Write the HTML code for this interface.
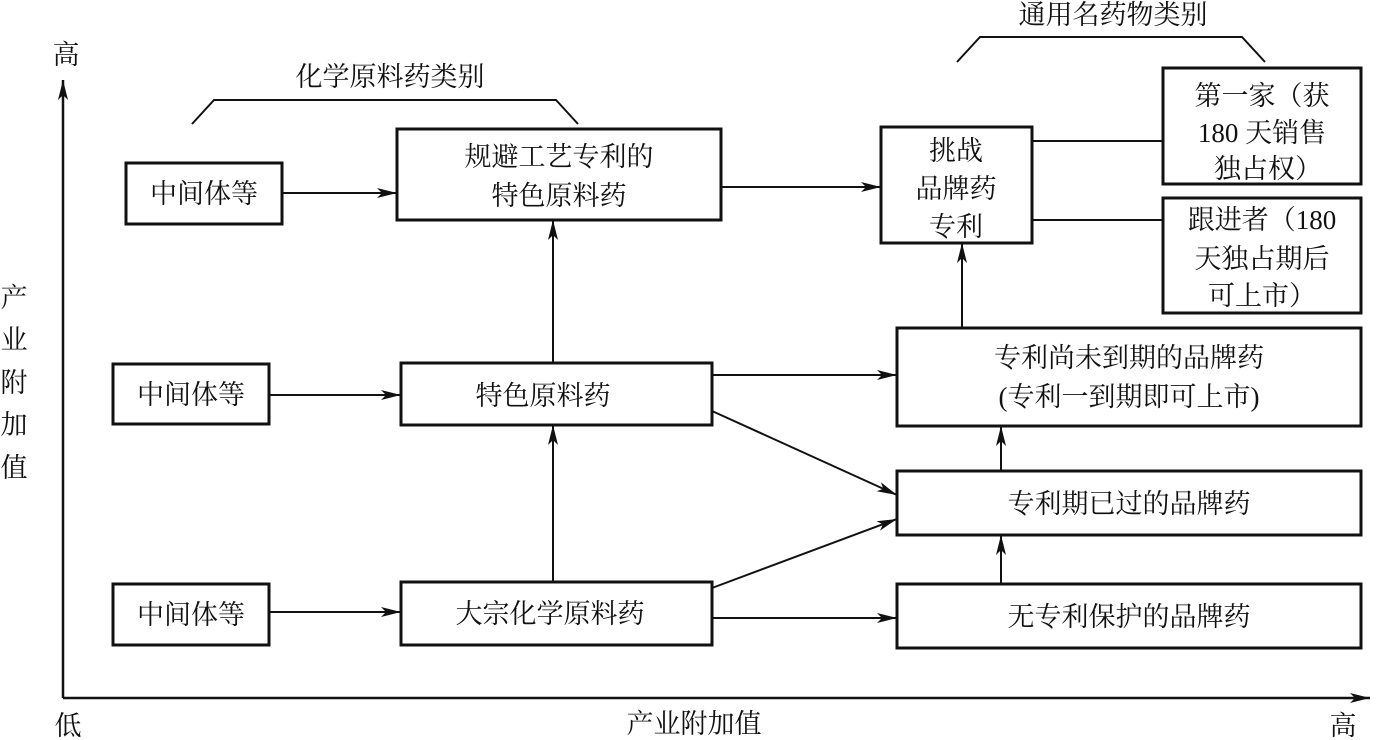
<!DOCTYPE html>
<html><head><meta charset="utf-8"><style>
html,body{margin:0;padding:0;background:#fff}
svg{display:block}
text{font-family:"Liberation Serif","Noto Serif CJK SC","Noto Sans CJK SC",serif;font-size:27px;fill:#111;text-anchor:middle}
</style></head><body>
<svg width="1379" height="740" viewBox="0 0 1379 740" xmlns="http://www.w3.org/2000/svg">
<defs><marker id="a" viewBox="0 0 20 10" refX="20" refY="5" markerWidth="20" markerHeight="10" markerUnits="userSpaceOnUse" orient="auto"><path d="M0,0 L20,5 L0,10 L5,5 Z" fill="#111"/></marker></defs>
<g stroke="#111" fill="none">
<!-- axes -->
<line x1="63" y1="698" x2="63" y2="80" stroke-width="2.5" marker-end="url(#a)"/>
<line x1="63" y1="698" x2="1370" y2="698" stroke-width="2.5" marker-end="url(#a)"/>
<!-- brackets -->
<polyline points="192,124 214,100 556,100 578,124" stroke-width="2"/>
<polyline points="957,62 980,37 1242,37 1265,62" stroke-width="2"/>
<!-- boxes -->
<g stroke-width="3">
<rect x="126" y="163" width="156" height="61"/>
<rect x="397" y="129" width="324" height="91"/>
<rect x="881" y="127" width="151" height="116"/>
<rect x="1163" y="68" width="198" height="116"/>
<rect x="1163" y="198" width="198" height="115"/>
<rect x="113" y="364" width="156" height="60"/>
<rect x="401" y="363" width="311" height="62"/>
<rect x="897" y="328" width="464" height="98"/>
<rect x="897" y="471" width="464" height="64"/>
<rect x="113" y="584" width="156" height="61"/>
<rect x="401" y="582" width="311" height="63"/>
<rect x="897" y="584" width="464" height="64"/>
</g>
<!-- connectors -->
<g stroke-width="2">
<line x1="282" y1="193" x2="397" y2="193" marker-end="url(#a)"/>
<line x1="721" y1="187" x2="881" y2="187" marker-end="url(#a)"/>
<line x1="1032" y1="141" x2="1163" y2="141"/>
<line x1="1032" y1="220" x2="1163" y2="220"/>
<line x1="553" y1="363" x2="553" y2="220" marker-end="url(#a)"/>
<line x1="553" y1="582" x2="553" y2="425" marker-end="url(#a)"/>
<line x1="962" y1="328" x2="962" y2="243" marker-end="url(#a)"/>
<line x1="269" y1="395" x2="401" y2="395" marker-end="url(#a)"/>
<line x1="712" y1="375" x2="897" y2="375" marker-end="url(#a)"/>
<line x1="712" y1="411" x2="897" y2="495" marker-end="url(#a)"/>
<line x1="269" y1="612" x2="401" y2="612" marker-end="url(#a)"/>
<line x1="712" y1="588" x2="897" y2="519" marker-end="url(#a)"/>
<line x1="712" y1="618" x2="897" y2="618" marker-end="url(#a)"/>
<line x1="1001" y1="471" x2="1001" y2="426" marker-end="url(#a)"/>
<line x1="1001" y1="584" x2="1001" y2="535" marker-end="url(#a)"/>
</g>
</g>
<!-- labels -->
<text x="66" y="64">高</text>
<text x="68" y="735">低</text>
<text x="1343" y="735">高</text>
<text x="694" y="733">产业附加值</text>
<text x="14" y="307">产</text>
<text x="14" y="349">业</text>
<text x="14" y="392">附</text>
<text x="14" y="434">加</text>
<text x="14" y="477">值</text>
<text x="390" y="86">化学原料药类别</text>
<text x="1113" y="24">通用名药物类别</text>
<text x="204" y="203">中间体等</text>
<text x="559" y="166">规避工艺专利的</text>
<text x="559" y="205">特色原料药</text>
<text x="956" y="160">挑战</text>
<text x="956" y="198">品牌药</text>
<text x="956" y="236">专利</text>
<text x="1262" y="105">第一家（获</text>
<text x="1262" y="142">180 天销售</text>
<text x="1268" y="178">独占权）</text>
<text x="1262" y="229">跟进者（180</text>
<text x="1262" y="268">天独占期后</text>
<text x="1262" y="305">可上市）</text>
<text x="191" y="404">中间体等</text>
<text x="543" y="405">特色原料药</text>
<text x="1129" y="367">专利尚未到期的品牌药</text>
<text x="1129" y="406">(专利一到期即可上市)</text>
<text x="1129" y="513">专利期已过的品牌药</text>
<text x="191" y="624">中间体等</text>
<text x="550" y="623">大宗化学原料药</text>
<text x="1129" y="626">无专利保护的品牌药</text>
</svg>
</body></html>
